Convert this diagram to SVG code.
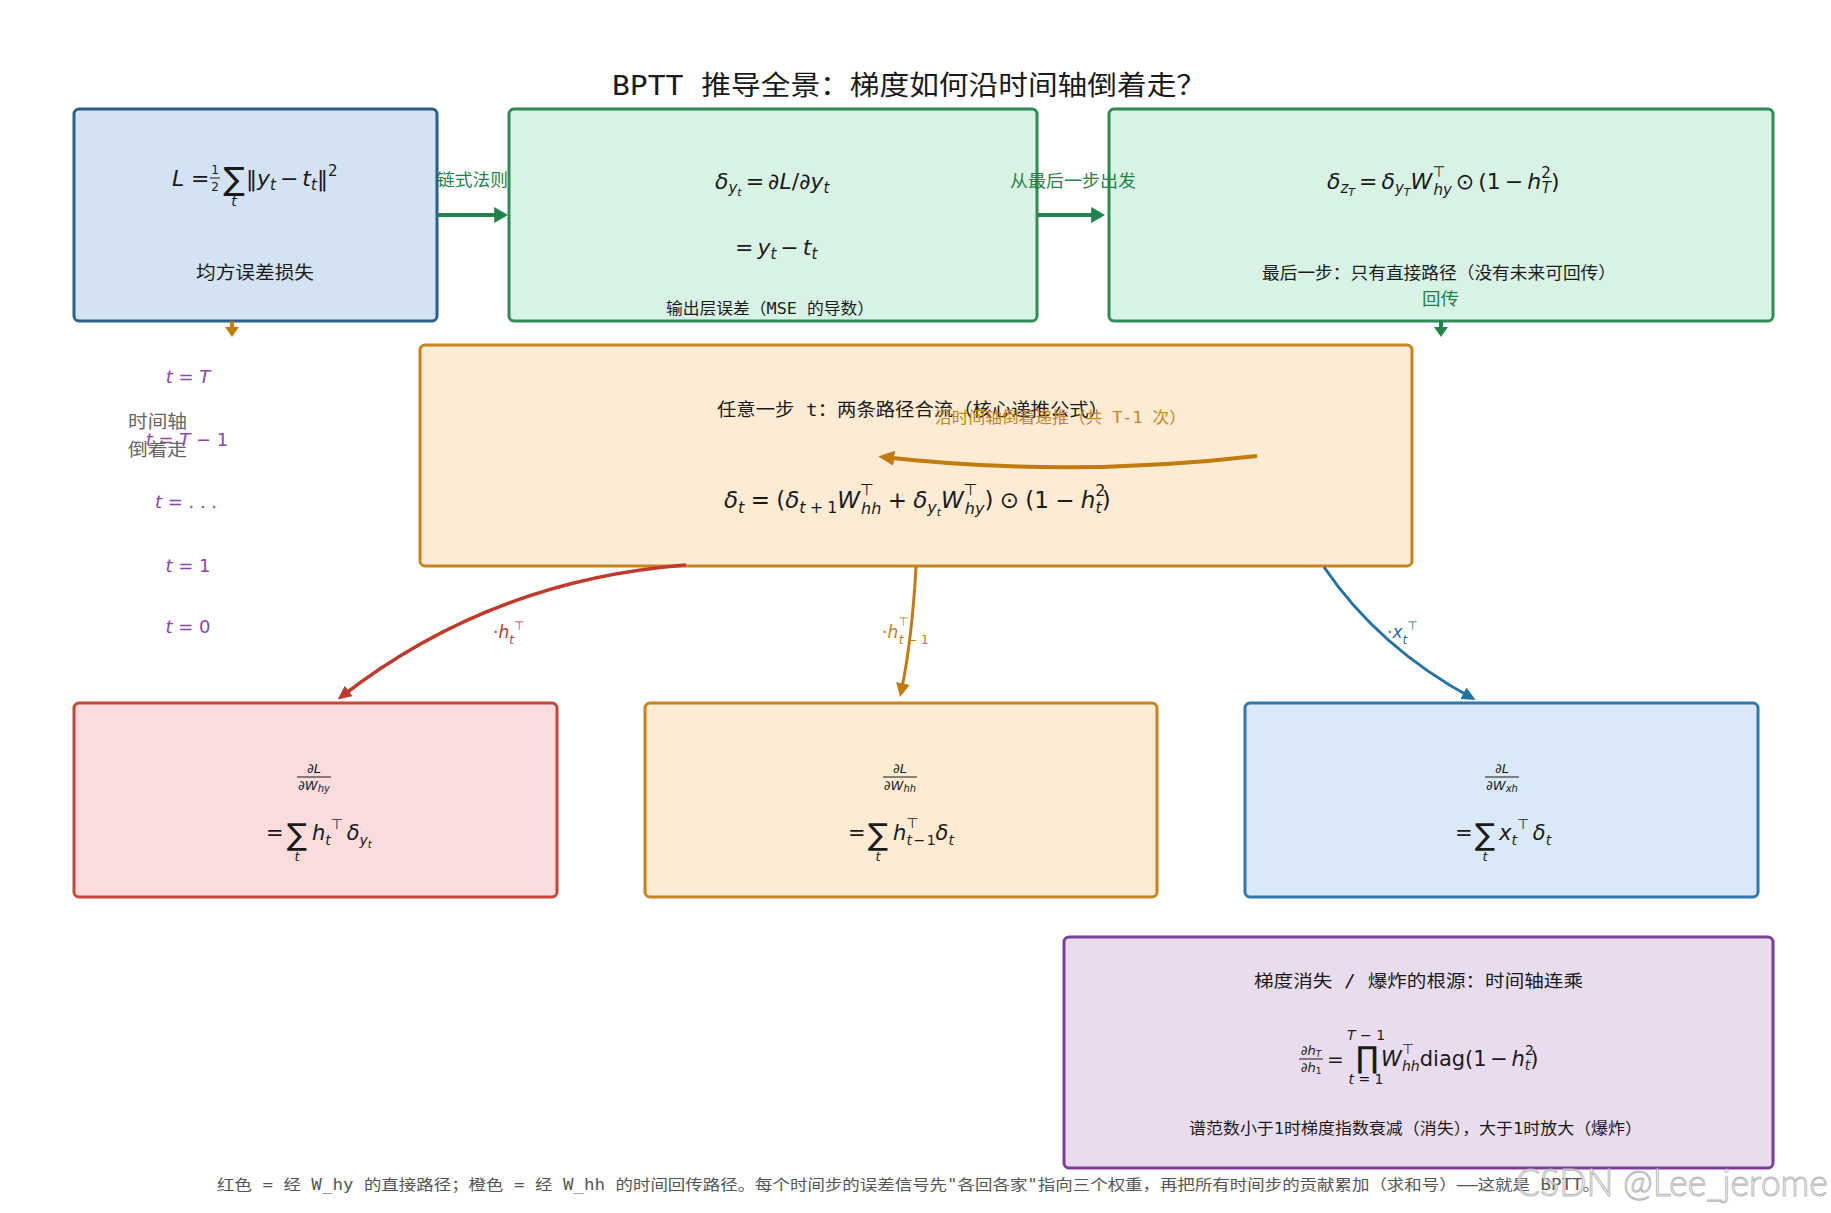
<svg xmlns="http://www.w3.org/2000/svg" width="1831" height="1213" viewBox="0 0 1831 1213">
<style>
.cjk{font-family:"DejaVu Sans Mono","Noto Sans CJK SC",monospace;fill:#1a1a1a}
.mi{font-family:"DejaVu Sans",sans-serif;font-style:italic;fill:#1a1a1a}
.mu{font-style:normal}
.box{stroke-width:3}
.tl{fill:#8e44ad}
.g{fill:#1e8449}
.ws{word-spacing:-3px}
.ws1{word-spacing:-1px}
</style>
<defs>
<marker id="ah-green" viewBox="0 0 10 10" refX="7" refY="5" markerWidth="14" markerHeight="16" markerUnits="userSpaceOnUse" orient="auto" preserveAspectRatio="none"><path d="M0,0 L10,5 L0,10 z" fill="#1e8449"/></marker>
<marker id="ah-green-s" viewBox="0 0 10 10" refX="7" refY="5" markerWidth="10" markerHeight="14" markerUnits="userSpaceOnUse" orient="auto" preserveAspectRatio="none"><path d="M0,0 L10,5 L0,10 z" fill="#1e8449"/></marker>
<marker id="ah-orange-s" viewBox="0 0 10 10" refX="7" refY="5" markerWidth="10" markerHeight="14" markerUnits="userSpaceOnUse" orient="auto" preserveAspectRatio="none"><path d="M0,0 L10,5 L0,10 z" fill="#c27c0e"/></marker>
<marker id="ah-orange" viewBox="0 0 10 10" refX="7" refY="5" markerWidth="16" markerHeight="15" markerUnits="userSpaceOnUse" orient="auto" preserveAspectRatio="none"><path d="M0,0 L10,5 L0,10 z" fill="#c27c0e"/></marker>
<marker id="ah-orange2" viewBox="0 0 10 10" refX="7" refY="5" markerWidth="14" markerHeight="14" markerUnits="userSpaceOnUse" orient="auto" preserveAspectRatio="none"><path d="M0,0 L10,5 L0,10 z" fill="#c27c0e"/></marker>
<marker id="ah-red" viewBox="0 0 10 10" refX="7" refY="5" markerWidth="14" markerHeight="13" markerUnits="userSpaceOnUse" orient="auto" preserveAspectRatio="none"><path d="M0,0 L10,5 L0,10 z" fill="#c0392b"/></marker>
<marker id="ah-blue" viewBox="0 0 10 10" refX="7" refY="5" markerWidth="14" markerHeight="13" markerUnits="userSpaceOnUse" orient="auto" preserveAspectRatio="none"><path d="M0,0 L10,5 L0,10 z" fill="#2471a3"/></marker>
</defs>
<rect width="1831" height="1213" fill="#ffffff"/>

<text id="title" class="cjk" x="612" y="95" font-size="27" textLength="594" lengthAdjust="spacingAndGlyphs">BPTT 推导全景：梯度如何沿时间轴倒着走？</text>

<g id="n-loss">
<rect class="box" x="74" y="109" width="363" height="212" rx="5" fill="#d3e3f3" stroke="#2b5f8a" stroke-width="3.5"/>
<text class="mi" x="172" y="186" font-size="22">L</text>
<text class="mi mu" x="191" y="186" font-size="22">=</text>
<text class="mi mu" x="215" y="174" font-size="12" text-anchor="middle">1</text>
<line x1="210" y1="178" x2="220" y2="178" stroke="#1a1a1a" stroke-width="1"/>
<text class="mi mu" x="215" y="191" font-size="12" text-anchor="middle">2</text>
<text class="mi mu" x="234" y="190" font-size="32" text-anchor="middle">∑</text>
<text class="mi" x="234" y="206" font-size="14" text-anchor="middle">t</text>
<text class="mi ws" x="246" y="186" font-size="22"><tspan class="mu">‖</tspan>y<tspan font-size="15" dy="4">t</tspan><tspan class="mu" dy="-4"> − </tspan>t<tspan font-size="15" dy="4">t</tspan><tspan class="mu" dy="-4">‖</tspan><tspan class="mu" font-size="15" dy="-10">2</tspan></text>
<text class="cjk" x="196" y="279" font-size="18" textLength="118" lengthAdjust="spacingAndGlyphs">均方误差损失</text>
</g>

<g id="n-output">
<rect class="box" x="509" y="109" width="528" height="212" rx="5" fill="#d8f3e5" stroke="#2e8b57"/>
<text class="mi ws" x="715" y="189" font-size="22">δ<tspan font-size="15" dy="4">y</tspan><tspan font-size="11" dy="3">t</tspan><tspan class="mu" dy="-7"> = ∂</tspan>L<tspan class="mu">/∂</tspan>y<tspan font-size="15" dy="4">t</tspan></text>
<text class="mi ws" x="735" y="255" font-size="22"><tspan class="mu">= </tspan>y<tspan font-size="15" dy="4">t</tspan><tspan class="mu" dy="-4"> − </tspan>t<tspan font-size="15" dy="4">t</tspan></text>
<text class="cjk" x="666" y="314" font-size="16" textLength="208" lengthAdjust="spacingAndGlyphs">输出层误差（MSE 的导数）</text>
</g>

<g id="n-last">
<rect class="box" x="1109" y="109" width="664" height="212" rx="5" fill="#d8f3e5" stroke="#2e8b57"/>
<text class="mi ws" x="1327" y="189" font-size="22">δ<tspan font-size="15" dy="4">z</tspan><tspan font-size="11" dy="3">T</tspan><tspan class="mu" dy="-7"> = </tspan>δ<tspan font-size="15" dy="4">y</tspan><tspan font-size="11" dy="3">T</tspan><tspan dy="-7">W</tspan><tspan class="mu" font-size="15" dy="-12">⊤</tspan><tspan font-size="15" dx="-12" dy="18">hy</tspan><tspan class="mu" dy="-6"> ⊙ (1 − </tspan>h<tspan class="mu" font-size="15" dy="-11">2</tspan><tspan font-size="15" dx="-9" dy="15">T</tspan><tspan class="mu" dy="-4">)</tspan></text>
<text class="cjk" x="1262" y="279" font-size="17" textLength="354" lengthAdjust="spacingAndGlyphs">最后一步：只有直接路径（没有未来可回传）</text>
</g>

<g id="n-core">
<rect class="box" x="420" y="345" width="992" height="221" rx="5" fill="#fdebd3" stroke="#c8831f"/>
<text class="cjk" x="717" y="416" font-size="18" textLength="391" lengthAdjust="spacingAndGlyphs">任意一步 t：两条路径合流（核心递推公式）</text>
<text class="mi ws1" x="724" y="508" font-size="23">δ<tspan font-size="16" dy="5">t</tspan><tspan class="mu" dy="-5"> = (</tspan>δ<tspan font-size="16" dy="5">t</tspan><tspan class="mu" font-size="16"> + 1</tspan><tspan dy="-5">W</tspan><tspan class="mu" font-size="16" dy="-13">⊤</tspan><tspan font-size="16" dx="-13" dy="19">hh</tspan><tspan class="mu" dy="-6"> + </tspan>δ<tspan font-size="16" dy="5">y</tspan><tspan font-size="11" dy="3">t</tspan><tspan dy="-8">W</tspan><tspan class="mu" font-size="16" dy="-13">⊤</tspan><tspan font-size="16" dx="-13" dy="19">hy</tspan><tspan class="mu" dy="-6">) ⊙ (1 − </tspan>h<tspan class="mu" font-size="16" dy="-12">2</tspan><tspan font-size="16" dx="-10" dy="17">t</tspan><tspan class="mu" dy="-5">)</tspan></text>
</g>

<g id="n-grad-hy">
<rect class="box" x="74" y="703" width="483" height="194" rx="5" fill="#f9dcdb" stroke="#c8453a"/>
<text class="mi" x="314" y="773" font-size="13" text-anchor="middle"><tspan class="mu">∂</tspan>L</text>
<line x1="297" y1="777" x2="331" y2="777" stroke="#1a1a1a" stroke-width="1"/>
<text class="mi" x="314" y="790" font-size="13" text-anchor="middle"><tspan class="mu">∂</tspan>W<tspan font-size="10" dy="2">hy</tspan></text>
<text class="mi mu" x="266" y="840" font-size="21">=</text>
<text class="mi mu" x="297" y="845" font-size="30" text-anchor="middle">∑</text>
<text class="mi" x="297" y="861" font-size="13" text-anchor="middle">t</text>
<text class="mi ws" x="312" y="840" font-size="21">h<tspan font-size="14" dy="5">t</tspan><tspan class="mu" font-size="14" dy="-16">⊤</tspan><tspan dy="11"> δ</tspan><tspan font-size="14" dy="5">y</tspan><tspan font-size="10" dy="3">t</tspan></text>
</g>

<g id="n-grad-hh">
<rect class="box" x="645" y="703" width="512" height="194" rx="5" fill="#fdebd3" stroke="#c8831f"/>
<text class="mi" x="900" y="773" font-size="13" text-anchor="middle"><tspan class="mu">∂</tspan>L</text>
<line x1="883" y1="777" x2="917" y2="777" stroke="#1a1a1a" stroke-width="1"/>
<text class="mi" x="900" y="790" font-size="13" text-anchor="middle"><tspan class="mu">∂</tspan>W<tspan font-size="10" dy="2">hh</tspan></text>
<text class="mi mu" x="848" y="840" font-size="21">=</text>
<text class="mi mu" x="878" y="845" font-size="30" text-anchor="middle">∑</text>
<text class="mi" x="878" y="861" font-size="13" text-anchor="middle">t</text>
<text class="mi ws" x="893" y="840" font-size="21">h<tspan class="mu" font-size="14" dy="-12">⊤</tspan><tspan font-size="14" dx="-12" dy="17">t</tspan><tspan class="mu" font-size="14"> − 1</tspan><tspan dy="-5">δ</tspan><tspan font-size="14" dy="5">t</tspan></text>
</g>

<g id="n-grad-xh">
<rect class="box" x="1245" y="703" width="513" height="194" rx="5" fill="#d9e9f7" stroke="#2e78ad"/>
<text class="mi" x="1502" y="773" font-size="13" text-anchor="middle"><tspan class="mu">∂</tspan>L</text>
<line x1="1485" y1="777" x2="1519" y2="777" stroke="#1a1a1a" stroke-width="1"/>
<text class="mi" x="1502" y="790" font-size="13" text-anchor="middle"><tspan class="mu">∂</tspan>W<tspan font-size="10" dy="2">xh</tspan></text>
<text class="mi mu" x="1455" y="840" font-size="21">=</text>
<text class="mi mu" x="1485" y="845" font-size="30" text-anchor="middle">∑</text>
<text class="mi" x="1485" y="861" font-size="13" text-anchor="middle">t</text>
<text class="mi ws" x="1499" y="840" font-size="21">x<tspan font-size="14" dy="5">t</tspan><tspan class="mu" font-size="14" dy="-16">⊤</tspan><tspan dy="11"> δ</tspan><tspan font-size="14" dy="5">t</tspan></text>
</g>

<g id="n-vanish">
<rect class="box" x="1064" y="937" width="709" height="231" rx="5" fill="#e8dcee" stroke="#7d3c98"/>
<text class="cjk" x="1254" y="987" font-size="17" textLength="329" lengthAdjust="spacingAndGlyphs">梯度消失 / 爆炸的根源：时间轴连乘</text>
<text class="mi" x="1311" y="1055" font-size="13" text-anchor="middle"><tspan class="mu">∂</tspan>h<tspan font-size="9" dy="2">T</tspan></text>
<line x1="1299" y1="1059" x2="1323" y2="1059" stroke="#1a1a1a" stroke-width="1"/>
<text class="mi" x="1311" y="1072" font-size="13" text-anchor="middle"><tspan class="mu">∂</tspan>h<tspan class="mu" font-size="9" dy="2">1</tspan></text>
<text class="mi mu" x="1327" y="1066" font-size="20">=</text>
<text class="mi" x="1366" y="1040" font-size="14" text-anchor="middle">T<tspan class="mu"> − 1</tspan></text>
<text class="mi mu" x="1367" y="1068" font-size="30" text-anchor="middle">∏</text>
<text class="mi" x="1366" y="1084" font-size="14" text-anchor="middle">t<tspan class="mu"> = 1</tspan></text>
<text class="mi ws" x="1381" y="1066" font-size="21">W<tspan class="mu" font-size="14" dy="-12">⊤</tspan><tspan font-size="14" dx="-12" dy="17">hh</tspan><tspan class="mu" dy="-5">diag(1 − </tspan>h<tspan class="mu" font-size="14" dy="-11">2</tspan><tspan font-size="14" dx="-9" dy="15">t</tspan><tspan class="mu" dy="-4">)</tspan></text>
<text class="cjk" x="1189" y="1134" font-size="16" textLength="453" lengthAdjust="spacingAndGlyphs">谱范数小于1时梯度指数衰减（消失），大于1时放大（爆炸）</text>
</g>

<g id="timeline">
<text class="mi tl" x="188" y="383" font-size="18" text-anchor="middle">t<tspan class="mu"> = </tspan>T</text>
<text class="mi tl" x="187" y="446" font-size="18" text-anchor="middle">t<tspan class="mu"> = </tspan>T<tspan class="mu"> − 1</tspan></text>
<text class="mi tl" x="186" y="508" font-size="18" text-anchor="middle">t<tspan class="mu"> = . . .</tspan></text>
<text class="mi tl" x="188" y="572" font-size="18" text-anchor="middle">t<tspan class="mu"> = 1</tspan></text>
<text class="mi tl" x="188" y="633" font-size="18" text-anchor="middle">t<tspan class="mu"> = 0</tspan></text>
<text class="cjk" x="128" y="428" font-size="18" textLength="59" lengthAdjust="spacingAndGlyphs" style="fill:#666666">时间轴</text>
<text class="cjk" x="128" y="456" font-size="18" textLength="59" lengthAdjust="spacingAndGlyphs" style="fill:#666666">倒着走</text>
</g>

<g id="connectors" fill="none">
<path d="M437,215 L504,215" stroke="#1e8449" stroke-width="4" marker-end="url(#ah-green)"/>
<text class="cjk g" x="437" y="186" font-size="17" textLength="71" lengthAdjust="spacingAndGlyphs">链式法则</text>
<path d="M1038,215 L1101,215" stroke="#1e8449" stroke-width="4" marker-end="url(#ah-green)"/>
<text class="cjk g" x="1010" y="187" font-size="17" textLength="126" lengthAdjust="spacingAndGlyphs">从最后一步出发</text>
<path d="M232,321 L232,334" stroke="#c27c0e" stroke-width="4" marker-end="url(#ah-orange-s)"/>
<path d="M1441,321 L1441,334" stroke="#1e8449" stroke-width="4" marker-end="url(#ah-green-s)"/>
<text class="cjk g" x="1422" y="305" font-size="17" textLength="37" lengthAdjust="spacingAndGlyphs">回传</text>
<path d="M1257,456 Q1068,478 883,457" stroke="#c27c0e" stroke-width="4" marker-end="url(#ah-orange)"/>
<text class="cjk" x="935" y="423" font-size="16" textLength="251" lengthAdjust="spacingAndGlyphs" style="fill:#c8841a">沿时间轴倒着递推（共 T-1 次）</text>
<path d="M686,565 Q491,580 341,697" stroke="#c0392b" stroke-width="3.5" marker-end="url(#ah-red)"/>
<path d="M916,567 Q912,640 901,693" stroke="#c27c0e" stroke-width="3" marker-end="url(#ah-orange2)"/>
<path d="M1324,567 Q1378,647 1472,698" stroke="#2471a3" stroke-width="3" marker-end="url(#ah-blue)"/>
<text class="mi" x="493" y="638" font-size="17" style="fill:#c0392b"><tspan class="mu">·</tspan>h<tspan font-size="12" dy="6">t</tspan><tspan class="mu" font-size="12" dy="-14">⊤</tspan></text>
<text class="mi" x="882" y="638" font-size="17" style="fill:#c27c0e"><tspan class="mu">·</tspan>h<tspan class="mu" font-size="12" dy="-12">⊤</tspan><tspan font-size="12" dx="-10" dy="18">t</tspan><tspan class="mu" font-size="12"> − 1</tspan></text>
<text class="mi" x="1387" y="638" font-size="17" style="fill:#2471a3"><tspan class="mu">·</tspan>x<tspan font-size="12" dy="6">t</tspan><tspan class="mu" font-size="12" dy="-14">⊤</tspan></text>
</g>

<text id="footer" class="cjk" x="217" y="1190" font-size="15" textLength="1383" lengthAdjust="spacingAndGlyphs" style="fill:#555555">红色 = 经 W_hy 的直接路径；橙色 = 经 W_hh 的时间回传路径。每个时间步的误差信号先"各回各家"指向三个权重，再把所有时间步的贡献累加（求和号）——这就是 BPTT。</text>
<text id="watermark" x="1516" y="1196" font-family="Lato, 'Liberation Sans', sans-serif" font-weight="300" font-size="38" textLength="312" lengthAdjust="spacingAndGlyphs" fill="#ffffff" fill-opacity="0.6" stroke="#b8b8b8" stroke-width="1">CSDN @Lee_jerome</text>
</svg>
